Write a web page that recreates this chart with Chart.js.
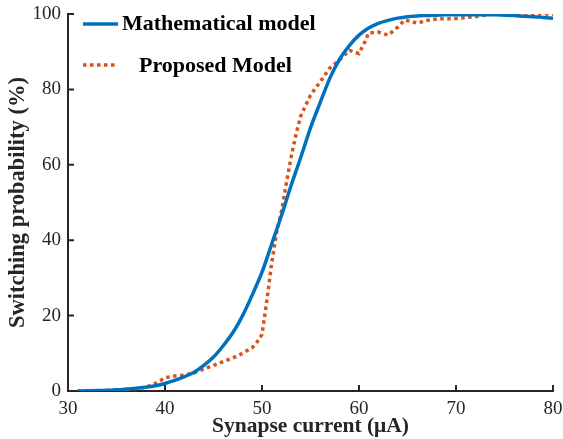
<!DOCTYPE html>
<html>
<head>
<meta charset="utf-8">
<script src="https://cdn.jsdelivr.net/npm/chart.js@4/dist/chart.umd.min.js"></script>
<style>
html,body{margin:0;padding:0;background:#fff;}
#wrap{width:563px;height:439px;}
</style>
</head>
<body>
<div id="wrap"><canvas id="c" width="563" height="439"></canvas></div>
<script>
// Mathematical model (x in µA, y in %)
const mathX = [31,32,33,34,35,36,37,38,39,40,41,42,43,44,45,46,47,48,49,50,51,52,53,54,55,56,57,58,59,60,61,62,63,64,65,66,67,68,69,70,71,72,73,74,75,76,77,78,79,80];
const mathY = [0,0.05,0.1,0.2,0.3,0.5,0.7,1.0,1.4,2.0,2.8,3.8,5.0,6.8,9.0,12,15.5,20,25.5,31.5,39,46.5,54.5,62,69.8,76.5,83,88,91.6,94.4,96.3,97.5,98.3,98.9,99.3,99.5,99.6,99.7,99.8,99.8,99.8,99.8,99.8,99.8,99.7,99.6,99.4,99.3,99.1,98.9];
// Proposed model
const propX = [31,32,33,34,35,36,37,38,39,40,41,42,43,44,45,46,47,48,49,49.5,50,50.5,51,51.5,52,52.5,53,53.5,54,55,56,57,58,59,60,60.6,61,62,63,64,64.7,66,67,68,70,72,73.5,75,80];
const propY = [0,0,0,0.1,0.2,0.4,0.6,1.0,2.0,3.5,4.0,4.2,4.8,5.8,6.8,7.8,8.8,10,11.5,13,15,24,34,42,47.5,55,62,68,73,78.5,82,85.7,87.8,90.4,89.5,92.6,95,95.2,94.4,96.5,98.4,97.6,98.3,98.7,98.8,99.3,99.9,100,100];
const xTicks = [30,40,50,60,70,80];
const yTicks = [0,20,40,60,80,100];
const seriesNames = ['Mathematical model','Proposed Model'];

const BLUE = '#0072BD', ORANGE = '#D95319', AX = '#262626';
const SERIF = '"Liberation Serif","Times New Roman",serif';

const inwardTicks = {
  id:'inwardTicks',
  afterDraw(chart){
    const {ctx, chartArea:a, scales:{x,y}} = chart;
    ctx.save();
    ctx.strokeStyle = AX; ctx.lineWidth = 2;
    ctx.beginPath();
    xTicks.forEach(v=>{const p=x.getPixelForValue(v); ctx.moveTo(p,a.bottom); ctx.lineTo(p,a.bottom-6);});
    yTicks.forEach(v=>{const p=y.getPixelForValue(v); ctx.moveTo(a.left,p); ctx.lineTo(a.left+6,p);});
    ctx.stroke();
    ctx.restore();
  }
};

const legendPlugin = {
  id:'customLegend',
  afterDraw(chart){
    const ctx = chart.ctx;
    ctx.save();
    ctx.lineCap='butt';
    ctx.strokeStyle = BLUE; ctx.lineWidth = 3.5;
    ctx.beginPath(); ctx.moveTo(83,24); ctx.lineTo(118,24); ctx.stroke();
    ctx.strokeStyle = ORANGE; ctx.setLineDash([3.5,3.5]);
    ctx.beginPath(); ctx.moveTo(83,65); ctx.lineTo(117,65); ctx.stroke();
    ctx.setLineDash([]);
    ctx.fillStyle = '#000';
    ctx.font = 'bold 22px ' + SERIF;
    ctx.textBaseline = 'middle'; ctx.textAlign='left';
    ctx.fillText(seriesNames[0], 122, 24);
    ctx.fillText(seriesNames[1], 139, 66);
    ctx.restore();
  }
};

new Chart(document.getElementById('c'), {
  type:'line',
  data:{
    datasets:[
      {label:seriesNames[0], data:mathX.map((v,i)=>({x:v,y:mathY[i]})), borderColor:BLUE, borderWidth:3.5, pointRadius:0, cubicInterpolationMode:'monotone', fill:false},
      {label:seriesNames[1], data:propX.map((v,i)=>({x:v,y:propY[i]})), borderColor:ORANGE, borderWidth:3.5, borderDash:[3.5,3.5], pointRadius:0, tension:0, fill:false}
    ]
  },
  options:{
    responsive:false, animation:false,
    layout:{padding:{top:14,right:10,left:0,bottom:0}},
    plugins:{legend:{display:false}, tooltip:{enabled:false}},
    scales:{
      x:{type:'linear', min:30, max:80,
        afterBuildTicks:s=>{s.ticks = xTicks.map(v=>({value:v}));},
        afterFit:s=>{s.height = 48; s.paddingLeft = 0; s.paddingRight = 0;},
        grid:{display:false, drawTicks:false},
        border:{display:true, color:AX, width:2},
        ticks:{font:{family:SERIF, size:19}, color:AX, padding:7, maxRotation:0},
        title:{display:true, text:'Synapse current (μA)', font:{family:SERIF, size:21.5, weight:'bold'}, color:AX, padding:{top:0,bottom:0}}
      },
      y:{min:0, max:100,
        afterBuildTicks:s=>{s.ticks = yTicks.map(v=>({value:v}));},
        afterFit:s=>{s.width = 68; s.paddingTop = 0; s.paddingBottom = 0;},
        grid:{display:false, drawTicks:false},
        border:{display:true, color:AX, width:2},
        ticks:{font:{family:SERIF, size:19}, color:AX, padding:7},
        title:{display:true, text:'Switching probability (%)', font:{family:SERIF, size:22.5, weight:'bold'}, color:AX, padding:{top:5,bottom:0}}
      }
    }
  },
  plugins:[inwardTicks, legendPlugin]
});
</script>
</body>
</html>
